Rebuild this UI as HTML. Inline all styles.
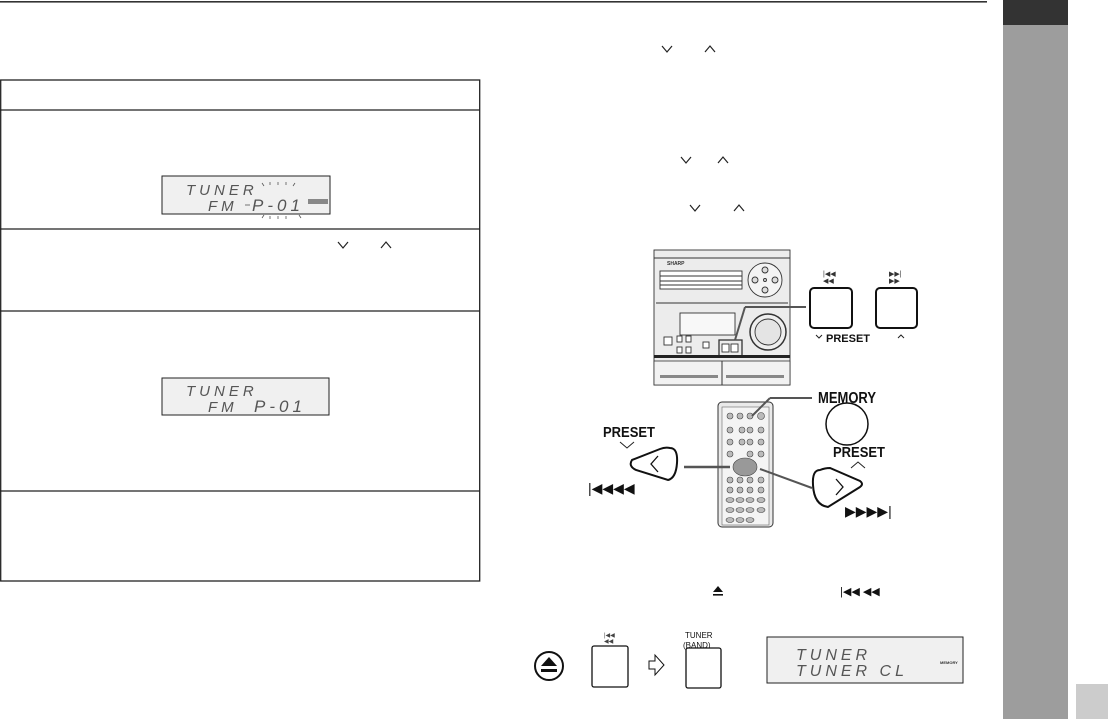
<!DOCTYPE html>
<html><head><meta charset="utf-8"><style>
html,body{margin:0;padding:0;background:#fff;}
svg{display:block}
text{font-family:"Liberation Sans",sans-serif;}
.lcd{font-family:"Liberation Sans",sans-serif;font-style:italic;fill:#555;letter-spacing:4px}
</style></head><body>
<svg width="1108" height="719" viewBox="0 0 1108 719" xmlns="http://www.w3.org/2000/svg">
<rect x="0" y="1" width="987" height="1.6" fill="#333"/>
<rect x="1003" y="0" width="65" height="25" fill="#333"/>
<rect x="1003" y="25" width="65" height="694" fill="#9d9d9d"/>
<rect x="1076" y="684" width="32" height="35" fill="#cccccc"/>

<g stroke="#222" stroke-width="1.3" fill="none">
<rect x="0.7" y="80" width="479" height="501"/>
<line x1="0" y1="110" x2="480" y2="110"/>
<line x1="0" y1="229" x2="480" y2="229"/>
<line x1="0" y1="311" x2="480" y2="311"/>
<line x1="0" y1="491" x2="480" y2="491"/>
</g>
<rect x="162" y="176" width="168" height="38" fill="#f0f0f0" stroke="#222" stroke-width="1"/>
<text x="186" y="195" class="lcd" font-size="15">TUNER</text>
<text x="208" y="211" class="lcd" font-size="15">FM</text>
<text x="252" y="211" class="lcd" font-size="17">P-01</text>
<g stroke="#555" stroke-width="0.8">
<line x1="262" y1="183" x2="264" y2="186"/><line x1="270" y1="182" x2="270" y2="185"/><line x1="278" y1="182" x2="278" y2="185"/><line x1="286" y1="182" x2="286" y2="185"/><line x1="295" y1="183" x2="293" y2="186"/>
<line x1="262" y1="218" x2="264" y2="215"/><line x1="270" y1="219" x2="270" y2="216"/><line x1="278" y1="219" x2="278" y2="216"/><line x1="286" y1="219" x2="286" y2="216"/><line x1="301" y1="218" x2="299" y2="215"/>
<line x1="245" y1="205" x2="250" y2="205"/>
</g>
<rect x="308" y="199" width="20" height="5" fill="#888"/>
<path d="M338 242 L343 248 L348 242" stroke="#222" fill="none" stroke-width="1.2"/>
<path d="M381 248 L386 242 L391 248" stroke="#222" fill="none" stroke-width="1.2"/>
<rect x="162" y="378" width="167" height="37" fill="#f0f0f0" stroke="#222" stroke-width="1"/>
<text x="186" y="396" class="lcd" font-size="15">TUNER</text>
<text x="208" y="412" class="lcd" font-size="15">FM</text>
<text x="254" y="412" class="lcd" font-size="17">P-01</text>

<g stroke="#222" fill="none" stroke-width="1.2">
<path d="M662 46 L667 52 L672 46"/><path d="M705 52 L710 46 L715 52"/>
<path d="M681 157 L686 163 L691 157"/><path d="M718 163 L723 157 L728 163"/>
<path d="M690 205 L695 211 L700 205"/><path d="M734 211 L739 205 L744 211"/>
</g>

<g stroke="#333" stroke-width="0.9">
<rect x="654" y="250" width="136" height="135" fill="#ececec"/>
<line x1="654" y1="258" x2="790" y2="258"/>
<text x="667" y="265" font-size="5" font-weight="bold" fill="#333" stroke="none">SHARP</text>
<rect x="660" y="271" width="82" height="18" fill="#fff"/>
<line x1="660" y1="276" x2="742" y2="276"/><line x1="660" y1="281" x2="742" y2="281"/><line x1="660" y1="285" x2="742" y2="285"/>
<circle cx="765" cy="280" r="17" fill="#f4f4f4"/>
<circle cx="765" cy="270" r="3" fill="#ddd"/><circle cx="765" cy="290" r="3" fill="#ddd"/><circle cx="755" cy="280" r="3" fill="#ddd"/><circle cx="775" cy="280" r="3" fill="#ddd"/><circle cx="765" cy="280" r="1.5" fill="#ddd"/>
<line x1="656" y1="303" x2="788" y2="303"/>
<rect x="680" y="313" width="55" height="22" fill="#f8f8f8"/>
<circle cx="768" cy="332" r="18" fill="#eee" stroke-width="1.5"/>
<circle cx="768" cy="332" r="13" fill="#e4e4e4"/>
<rect x="664" y="337" width="8" height="8" fill="#fff"/><rect x="677" y="336" width="5" height="6" fill="#fff"/><rect x="686" y="336" width="5" height="6" fill="#fff"/><rect x="677" y="347" width="5" height="6" fill="#fff"/><rect x="686" y="347" width="5" height="6" fill="#fff"/><rect x="703" y="342" width="6" height="6" fill="#fff"/>
<rect x="719" y="340" width="23" height="16" fill="none" stroke-width="1.3"/>
<rect x="722" y="344" width="7" height="8" fill="#fff"/><rect x="731" y="344" width="7" height="8" fill="#fff"/>
</g>
<rect x="654" y="355" width="136" height="3" fill="#222"/>
<rect x="654" y="361" width="136" height="24" fill="#f2f2f2" stroke="#333" stroke-width="0.8"/>
<line x1="722" y1="361" x2="722" y2="385" stroke="#333"/>
<rect x="660" y="375" width="58" height="3" fill="#888"/><rect x="726" y="375" width="58" height="3" fill="#888"/>
<line x1="735" y1="340" x2="745" y2="307" stroke="#555" stroke-width="2"/>
<line x1="745" y1="307" x2="806" y2="307" stroke="#555" stroke-width="2"/>
<rect x="810" y="288" width="42" height="40" rx="4" fill="#fff" stroke="#111" stroke-width="2"/>
<rect x="876" y="288" width="41" height="40" rx="4" fill="#fff" stroke="#111" stroke-width="2"/>
<text x="823" y="276" font-size="7" fill="#333">|◀◀</text><text x="823" y="283" font-size="7" fill="#333">◀◀</text>
<text x="889" y="276" font-size="7" fill="#333">▶▶|</text><text x="889" y="283" font-size="7" fill="#333">▶▶</text>
<path d="M816 335 L819 338 L822 335" stroke="#222" fill="none"/>
<text x="826" y="342" font-size="11" font-weight="bold" fill="#111">PRESET</text>
<path d="M898 338 L901 335 L904 338" stroke="#222" fill="none"/>

<rect x="718" y="402" width="55" height="125" rx="4" fill="#eaeaea" stroke="#333" stroke-width="1"/>
<rect x="722" y="407" width="47" height="118" fill="#f4f4f4" stroke="#666" stroke-width="0.6"/>
<g fill="#bbb" stroke="#444" stroke-width="0.6">
<circle cx="730" cy="416" r="3"/><circle cx="740" cy="416" r="3"/><circle cx="750" cy="416" r="3"/><circle cx="761" cy="416" r="3.5"/>
<circle cx="730" cy="430" r="3"/><circle cx="742" cy="430" r="3"/><circle cx="750" cy="430" r="3"/><circle cx="761" cy="430" r="3"/>
<circle cx="730" cy="442" r="3"/><circle cx="742" cy="442" r="3"/><circle cx="750" cy="442" r="3"/><circle cx="761" cy="442" r="3"/>
<circle cx="730" cy="454" r="3"/><circle cx="750" cy="454" r="3"/><circle cx="761" cy="454" r="3"/>
<ellipse cx="745" cy="467" rx="12" ry="9" fill="#999"/>
<circle cx="730" cy="480" r="3"/><circle cx="740" cy="480" r="3"/><circle cx="750" cy="480" r="3"/><circle cx="761" cy="480" r="3"/>
<circle cx="730" cy="490" r="3"/><circle cx="740" cy="490" r="3"/><circle cx="750" cy="490" r="3"/><circle cx="761" cy="490" r="3"/>
<ellipse cx="730" cy="500" rx="4" ry="2.5"/><ellipse cx="740" cy="500" rx="4" ry="2.5"/><ellipse cx="750" cy="500" rx="4" ry="2.5"/><ellipse cx="761" cy="500" rx="4" ry="2.5"/>
<ellipse cx="730" cy="510" rx="4" ry="2.5"/><ellipse cx="740" cy="510" rx="4" ry="2.5"/><ellipse cx="750" cy="510" rx="4" ry="2.5"/><ellipse cx="761" cy="510" rx="4" ry="2.5"/>
<ellipse cx="730" cy="520" rx="4" ry="2.5"/><ellipse cx="740" cy="520" rx="4" ry="2.5"/><ellipse cx="750" cy="520" rx="4" ry="2.5"/>
</g>
<text x="818" y="403" font-size="16" font-weight="bold" fill="#111" textLength="58" lengthAdjust="spacingAndGlyphs">MEMORY</text>
<line x1="752" y1="416" x2="770" y2="398" stroke="#555" stroke-width="2"/>
<line x1="770" y1="398" x2="812" y2="398" stroke="#555" stroke-width="2"/>
<circle cx="847" cy="424" r="21" fill="#fff" stroke="#111" stroke-width="1.5"/>
<text x="833" y="457" font-size="15" font-weight="bold" fill="#111" textLength="52" lengthAdjust="spacingAndGlyphs">PRESET</text>
<path d="M851 468 L858 462 L865 468" stroke="#222" fill="none"/>
<path d="M820 470 Q812 470 813 485 Q814 505 828 507 L860 487 Q864 484 860 481 L830 468 Q825 468 820 470 Z" fill="#fff" stroke="#111" stroke-width="2"/>
<path d="M836 479 L843 487 L836 495" stroke="#111" fill="none" stroke-width="1.3"/>
<line x1="760" y1="469" x2="812" y2="488" stroke="#555" stroke-width="2"/>
<text x="845" y="516" font-size="14" fill="#111">▶▶▶▶|</text>
<text x="603" y="437" font-size="15" font-weight="bold" fill="#111" textLength="52" lengthAdjust="spacingAndGlyphs">PRESET</text>
<path d="M620 442 L627 448 L634 442" stroke="#222" fill="none"/>
<path d="M670 448 Q678 448 677 463 Q676 478 668 480 L636 470 Q628 466 632 460 L660 449 Q665 447 670 448 Z" fill="#fff" stroke="#111" stroke-width="2"/>
<path d="M658 456 L651 464 L658 472" stroke="#111" fill="none" stroke-width="1.3"/>
<line x1="684" y1="467" x2="730" y2="467" stroke="#555" stroke-width="2.5"/>
<text x="588" y="493" font-size="14" fill="#111">|◀◀◀◀</text>

<path d="M713 592 L718 586 L723 592 Z" fill="#111"/><rect x="713" y="594" width="10" height="1.6" fill="#111"/>
<text x="840" y="595" font-size="11" fill="#111">|◀◀ ◀◀</text>

<circle cx="549" cy="666" r="14" fill="#fff" stroke="#111" stroke-width="2"/>
<path d="M541 666 L549 657 L557 666 Z" fill="#111"/><rect x="541" y="669" width="16" height="3" fill="#111"/>
<rect x="592" y="646" width="36" height="41" rx="2" fill="#fff" stroke="#111" stroke-width="1.3"/>
<text x="604" y="637" font-size="6" fill="#444">|◀◀</text><text x="604" y="643" font-size="6" fill="#444">◀◀</text>
<path d="M649 661 L655 661 L655 655 L664 665 L655 675 L655 669 L649 669 Z" fill="#fff" stroke="#111" stroke-width="1"/>
<text x="685" y="638" font-size="8" fill="#111">TUNER</text>
<text x="683" y="648" font-size="8" fill="#111">(BAND)</text>
<rect x="686" y="648" width="35" height="40" rx="2" fill="#fff" stroke="#111" stroke-width="1.3"/>
<rect x="767" y="637" width="196" height="46" fill="#f0f0f0" stroke="#222" stroke-width="1"/>
<text x="796" y="660" class="lcd" font-size="16">TUNER</text>
<text x="796" y="676" class="lcd" font-size="16">TUNER CL</text>
<text x="940" y="664" font-size="4" fill="#333" font-weight="bold">MEMORY</text>
</svg>
</body></html>
